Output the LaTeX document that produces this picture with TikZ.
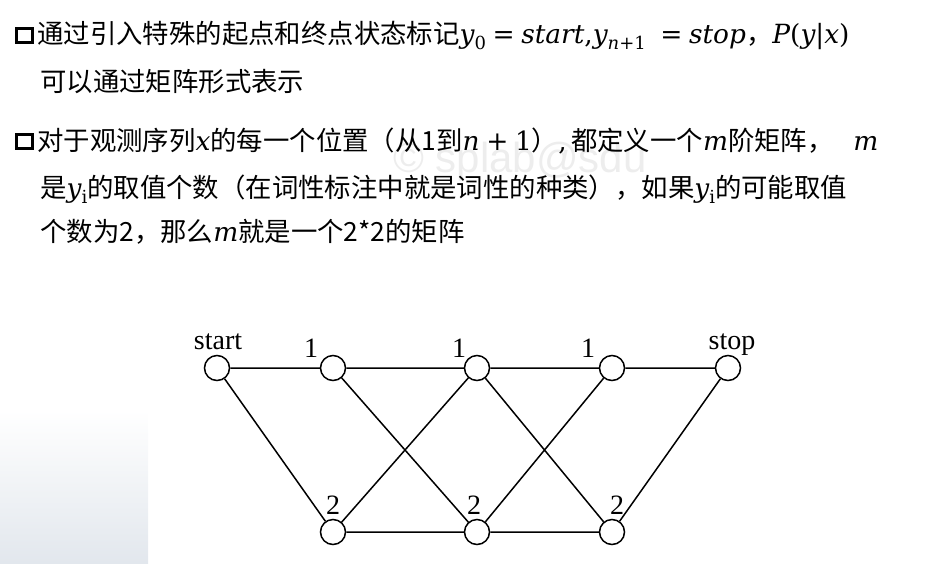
\documentclass[tikz,border=0pt]{standalone}
\usepackage{fontspec}
\newfontfamily\cjk{Noto Sans CJK SC}
\newfontfamily\tms{Liberation Serif}
\newfontfamily\wmfont{Liberation Sans}
\newfontfamily\mfont{DejaVu Serif}
\newcommand\mv[1]{{\mfont\itshape #1}}
\newcommand\mr[1]{{\mfont #1}}
\newcommand\msub[1]{\raisebox{-0.25em}{\fontsize{18}{18}\selectfont #1}}
\newcommand\rel[1]{\hspace{0.25em}\mr{#1}\hspace{0.25em}}
\definecolor{bgshade}{RGB}{226,231,237}
\begin{document}
\begin{tikzpicture}[x=1pt,y=-1pt,
  txt/.style={anchor=base west,inner sep=0pt,font=\cjk\fontsize{26.4}{30}\selectfont},
  st/.style={circle,draw,line width=1.5pt,minimum size=25pt,inner sep=0pt},
  lab/.style={anchor=base,inner sep=0pt,font=\tms\fontsize{28}{30}\selectfont},
  edge/.style={line width=1.5pt},
  sqbullet/.style={draw,line width=3pt}]
\useasboundingbox (0,0) rectangle (950,563);
% faint background shading at the lower left
\shade[top color=white,bottom color=bgshade] (0,410) rectangle (148,563);
% watermark
\node[anchor=base west,inner sep=0pt,text=black!7,font=\wmfont\fontsize{42}{44}\selectfont] (wm) at (393,172) {\textcopyright\ splab@sdu};
% bullets
\draw[sqbullet] (16.5,28.5) rectangle (32.5,42.5);
\draw[sqbullet] (16.5,134.5) rectangle (32.5,148.5);
% text
\node[txt] (l1) at (37,43) {通过引入特殊的起点和终点状态标记\mv{y}\msub{\mr{0}}\rel{=}\mv{start}\mr{,}\mv{y}\msub{\mv{n}\mr{+1}}\hspace{0.3em}\rel{=}\mv{stop}，\mv{P}\mr{(}\mv{y}\mr{|}\mv{x}\mr{)}};
\node[txt] (l2) at (40,91) {可以通过矩阵形式表示};
\node[txt] (l3) at (37,150) {对于观测序列\mv{x}的每一个位置（从1到\mv{n}\rel{+}\mr{1}）\mr{,}\,都定义一个\mv{m}阶矩阵，\hspace{0.75em}\mv{m}};
\node[txt] (l4) at (40,197) {是\mv{y}\msub{\mr{i}}的取值个数（在词性标注中就是词性的种类），如果\mv{y}\msub{\mr{i}}的可能取值};
\node[txt] (l5) at (40,241) {个数为2，那么\mv{m}就是一个2*2的矩阵};
% graph
\node[st] (s)  at (217,368) {};
\node[st] (a1) at (333,368) {};
\node[st] (b1) at (477,368) {};
\node[st] (c1) at (612,368) {};
\node[st] (e)  at (728,368) {};
\node[st] (a2) at (333,532) {};
\node[st] (b2) at (477,532) {};
\node[st] (c2) at (612,532) {};
\draw[edge] (s) -- (a1) (s) -- (a2)
  (a1) -- (b1) (a1) -- (b2) (a2) -- (b1) (a2) -- (b2)
  (b1) -- (c1) (b1) -- (c2) (b2) -- (c1) (b2) -- (c2)
  (c1) -- (e) (c2) -- (e);
\node[lab] (ls) at (218,349) {start};
\node[lab] (le) at (732,349) {stop};
\node[lab] (la1) at (311,357) {1};
\node[lab] (lb1) at (459,357) {1};
\node[lab] (lc1) at (588,357) {1};
\node[lab] (la2) at (333,514) {2};
\node[lab] (lb2) at (474,514) {2};
\node[lab] (lc2) at (617,514) {2};
\end{tikzpicture}
\end{document}
